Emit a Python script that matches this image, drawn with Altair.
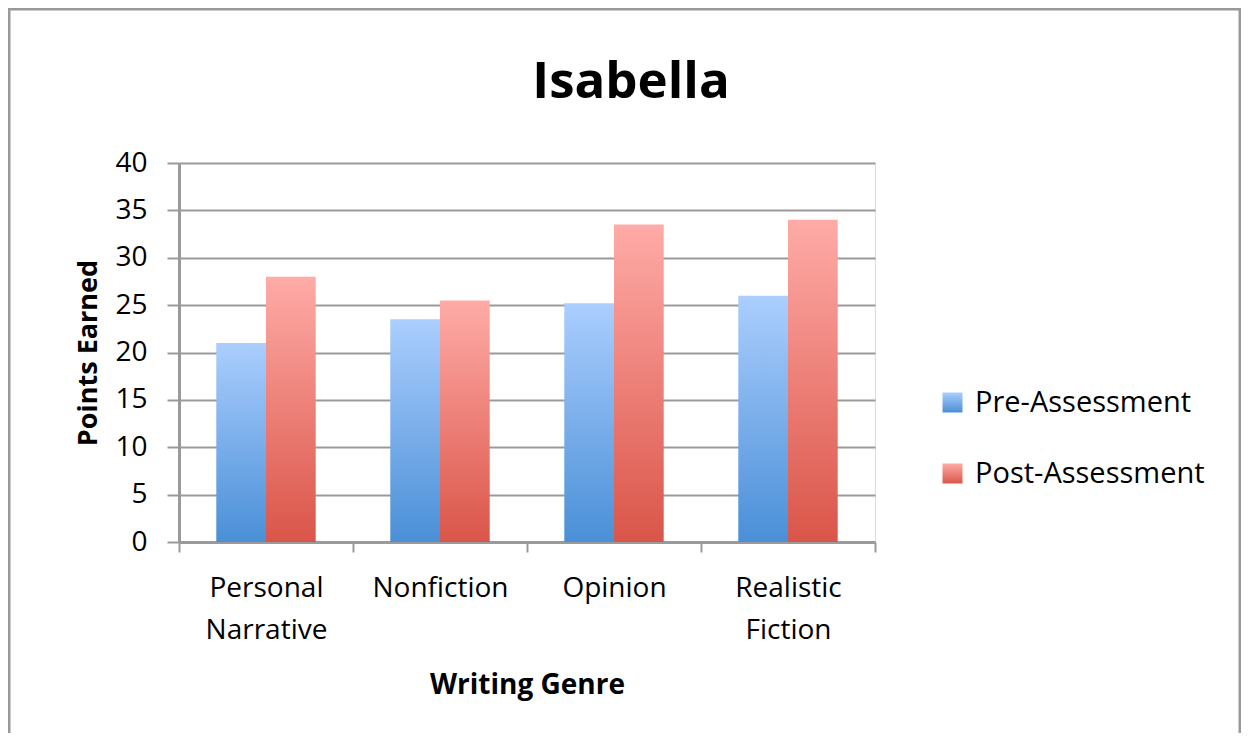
import altair as alt
import pandas as pd

genres = ["Personal Narrative", "Nonfiction", "Opinion", "Realistic Fiction"]
series = ["Pre-Assessment", "Post-Assessment"]
pre_scores = [21.0, 23.5, 25.2, 26.0]
post_scores = [28.0, 25.5, 33.5, 34.0]
y_ticks = [0, 5, 10, 15, 20, 25, 30, 35, 40]

rows = []
for g, a, b in zip(genres, pre_scores, post_scores):
    rows.append({"Genre": g, "Series": series[0], "Points": a})
    rows.append({"Genre": g, "Series": series[1], "Points": b})
df = pd.DataFrame(rows)

FONT = "Open Sans"
GRID = "#9a9a9a"

blue_grad = ("{gradient:'linear',x1:0,y1:0,x2:0,y2:1,"
             "stops:[{offset:0,color:'#abcefe'},{offset:1,color:'#4a8fd7'}]}")
red_grad = ("{gradient:'linear',x1:0,y1:0,x2:0,y2:1,"
            "stops:[{offset:0,color:'#ffaba7'},{offset:1,color:'#da5549'}]}")

bars = alt.Chart(df).mark_bar().encode(
    x=alt.X(
        "Genre:N",
        sort=genres,
        scale=alt.Scale(paddingInner=0, paddingOuter=0),
        axis=alt.Axis(
            title="Writing Genre",
            titleFont=FONT,
            titleFontSize=28,
            titleFontWeight="bold",
            titleColor="black",
            titlePadding=27,
            labelFont=FONT,
            labelFontSize=28,
            labelColor="black",
            labelAngle=0,
            labelPadding=22,
            labelLineHeight=42,
            labelExpr="split(datum.label, ' ')",
            tickBand="extent",
            tickColor=GRID,
            tickWidth=2,
            tickSize=10,
            domainColor=GRID,
            domainWidth=3,
            grid=False,
        ),
    ),
    xOffset=alt.XOffset(
        "Series:N",
        sort=series,
        scale=alt.Scale(paddingInner=0, paddingOuter=0.75),
    ),
    y=alt.Y(
        "Points:Q",
        scale=alt.Scale(domain=[0, 40], nice=False),
        axis=alt.Axis(
            values=y_ticks,
            title="Points Earned",
            titleFont=FONT,
            titleFontSize=27,
            titleFontWeight="bold",
            titleColor="black",
            titlePadding=12,
            labelFont=FONT,
            labelFontSize=28,
            labelColor="black",
            labelPadding=20,
            tickColor=GRID,
            tickWidth=2,
            tickSize=12,
            domainColor=GRID,
            domainWidth=3,
            grid=True,
            gridColor=GRID,
            gridWidth=2,
        ),
    ),
    color=alt.Color(
        "Series:N",
        sort=series,
        scale=alt.Scale(domain=series, range=[{"expr": blue_grad}, {"expr": red_grad}]),
        legend=alt.Legend(
            title=None,
            orient="none",
            legendX=759,
            legendY=225,
            direction="vertical",
            symbolType="square",
            symbolSize=400,
            symbolStrokeWidth=0,
            labelFont=FONT,
            labelFontSize=29,
            labelColor="black",
            labelOffset=8,
            labelLimit=0,
            rowPadding=41,
            padding=0,
        ),
    ),
)

frame = alt.Chart(pd.DataFrame({"k": [0]})).mark_rect(
    fillOpacity=0, stroke="#999999", strokeWidth=3
).encode(
    x=alt.value(-170), x2=alt.value(1061), y=alt.value(-154), y2=alt.value(700)
)

chart = alt.layer(frame, bars).properties(
    width=696,
    height=379,
    title=alt.TitleParams(
        "Isabella",
        font=FONT,
        fontSize=51,
        fontWeight="bold",
        color="black",
        anchor="middle",
        dx=104,
        baseline="alphabetic",
        offset=-141,
    ),
    autosize=alt.AutoSizeParams(type="none"),
    padding={"left": 171, "top": 155, "right": 366, "bottom": 191},
).configure_view(stroke="transparent", strokeWidth=0).configure(background="white")

chart.save("out.html", embed_options={"renderer": "svg", "actions": False})
